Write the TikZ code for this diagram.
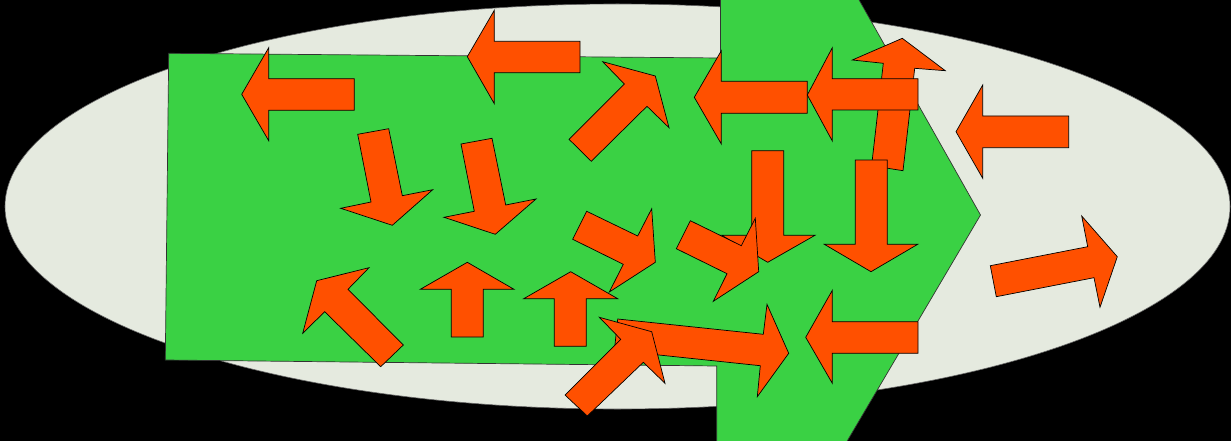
\documentclass[tikz,border=0pt]{standalone}
\definecolor{bgfill}{RGB}{0,0,0}
\definecolor{ellfill}{RGB}{229,234,223}
\definecolor{grn}{RGB}{58,209,68}
\definecolor{org}{RGB}{255,80,0}
\begin{document}
\begin{tikzpicture}[x=1pt,y=-1pt,
  arr/.style={fill=org,draw=black,line width=0.7pt,line join=miter},
  plate/.style={fill=grn,draw=black!80,line width=0.7pt},
  ell/.style={fill=ellfill,draw=black!60,line width=0.6pt}]
\fill[bgfill] (0,0) rectangle (1231,441);
\useasboundingbox (0,0) rectangle (1231,441);
% ellipse
\draw[ell] (617.5,206.5) ellipse [x radius=612.5, y radius=202.5];
% green arrow-shaped plate
\draw[plate] (168.7,53.3) -- (720.5,58) -- (720.5,-2) -- (858,-2) -- (980.5,215) -- (846,443) -- (716.7,443) -- (716.7,366) -- (165.3,360) -- cycle;
% arrows
\draw[arr] (241.7,94.3) -- (268.7,47.7) -- (268.7,78.7) -- (354.3,78.7) -- (354.3,110.3) -- (268.7,110.3) -- (268.7,140.7) -- cycle;
\draw[arr] (467.3,56.7) -- (494.3,10.3) -- (494.3,41.3) -- (580,41.3) -- (580,72.7) -- (494.3,72.7) -- (494.3,103.7) -- cycle;
\draw[arr] (357.7,134.3) -- (388.7,128.7) -- (402.3,195.7) -- (432.7,189.7) -- (392.3,225.3) -- (340.7,208.3) -- (371,202) -- cycle;
\draw[arr] (461,144) -- (492,138.3) -- (505.7,205) -- (536,199) -- (495.3,234.3) -- (444,217.3) -- (474.3,211.3) -- cycle;
\draw[arr] (569,139.3) -- (624.3,84) -- (602.7,61.7) -- (655.3,76) -- (669,127.7) -- (647,106.3) -- (591.3,161.3) -- cycle;
\draw[arr] (694.3,97.3) -- (721.3,50.7) -- (721.3,81.3) -- (807.3,81.3) -- (807.3,113.3) -- (721.3,113.3) -- (721.3,144) -- cycle;
\draw[arr] (902.3,38.3) -- (945.3,70.7) -- (914.7,68.3) -- (903,170.7) -- (871.6,165.7) -- (883.3,63.3) -- (852.3,60) -- cycle;
\draw[arr] (807.3,95) -- (832.3,47.7) -- (832.3,78.7) -- (918,78.7) -- (918,110) -- (832.3,110) -- (832.3,141) -- cycle;
\draw[arr] (956,131.7) -- (982.7,85) -- (982.7,116) -- (1068.7,116) -- (1068.7,147.7) -- (982.7,147.7) -- (982.7,178.3) -- cycle;
\draw[arr] (990.3,265.7) -- (1087.7,246.7) -- (1081.7,216) -- (1117.3,256.7) -- (1100,307.3) -- (1094,277.7) -- (996.3,296.7) -- cycle;
\draw[arr] (751.7,150.7) -- (783.7,150.7) -- (783.7,235.3) -- (815,235.3) -- (767.7,262.3) -- (721.7,235.3) -- (751.7,235.3) -- cycle;
\draw[arr] (855.3,160) -- (887.3,160) -- (887.3,244.3) -- (917.7,244.3) -- (871,271.7) -- (824.3,244.3) -- (855.3,244.3) -- cycle;
\draw[arr] (467.3,262.3) -- (514,289.3) -- (483.3,289.3) -- (483.3,337) -- (451.3,337) -- (451.3,289.3) -- (420.3,289.3) -- cycle;
\draw[arr] (570.7,271.7) -- (617.7,298.7) -- (586.3,298.7) -- (586.3,346.3) -- (554.3,346.3) -- (554.3,298.7) -- (523.7,298.7) -- cycle;
\draw[arr] (316.7,280.7) -- (369,267.7) -- (348,289.3) -- (403.3,345) -- (380.7,366.7) -- (324.7,311.7) -- (302.7,333.3) -- cycle;
\draw[arr] (586.7,211.3) -- (637.7,236) -- (651.7,208.7) -- (655.3,262.3) -- (609.3,292) -- (623.3,264.3) -- (572.7,239.3) -- cycle;
\draw[arr] (690.3,220.7) -- (741.3,245.7) -- (755.3,218.3) -- (758.7,271.7) -- (713.3,301.3) -- (727,273.7) -- (676.3,248.7) -- cycle;
\draw[arr] (617.7,319) -- (763.3,334.3) -- (767,304.3) -- (788.7,353.3) -- (757.3,396.7) -- (760.3,365.7) -- (614.4,350.3) -- cycle;
\draw[arr] (565,395) -- (620.7,339.3) -- (599.3,317.3) -- (651.7,331.7) -- (665,383.3) -- (643.3,362.3) -- (587.3,416) -- cycle;
\draw[arr] (805.7,337.3) -- (832.3,290.3) -- (832.3,321.7) -- (918,321.7) -- (918,353.3) -- (832.3,353.3) -- (832.3,383.3) -- cycle;
\end{tikzpicture}
\end{document}
